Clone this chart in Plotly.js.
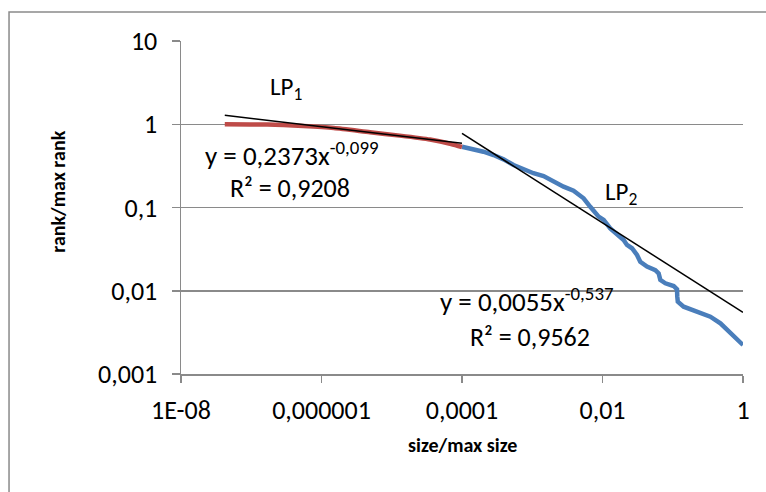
<!DOCTYPE html>
<html>
<head>
<meta charset="utf-8">
<script src="https://cdn.plot.ly/plotly-3.0.1.min.js"></script>
<style>html,body{margin:0;padding:0;background:#fff;}#chart{width:766px;height:492px;}</style>
</head>
<body>
<div id="chart"></div>
<script>
// LP1 (red) data
const lp1X = [4.2e-8, 1.7e-7, 5.5e-7, 1.5e-6, 4.9e-6, 1.3e-5, 3.5e-5, 7.0e-5, 1.0e-4];
const lp1Y = [1.0, 0.99, 0.95, 0.9, 0.8, 0.73, 0.655, 0.58, 0.533];
// LP2 (blue) data
const lp2X = [1.0e-4, 1.46e-4, 2.02e-4, 2.81e-4, 3.9e-4, 5.42e-4, 7.52e-4, 1.04e-3, 1.45e-3, 2.01e-3, 2.79e-3, 3.87e-3, 5.38e-3, 6.7e-3, 8.8e-3, 0.0104, 0.0129, 0.02, 0.0223, 0.0263, 0.031, 0.0345, 0.043, 0.0565, 0.063, 0.0665, 0.0785, 0.103, 0.115, 0.116, 0.118, 0.143, 0.222, 0.343, 0.477, 0.662, 1.0];
const lp2Y = [0.537, 0.5, 0.468, 0.427, 0.379, 0.324, 0.288, 0.258, 0.239, 0.204, 0.178, 0.159, 0.129, 0.102, 0.0776, 0.0708, 0.0562, 0.0407, 0.0355, 0.0324, 0.0269, 0.0223, 0.0195, 0.0177, 0.0162, 0.0135, 0.0123, 0.0114, 0.0104, 0.00849, 0.0074, 0.00643, 0.0056, 0.00488, 0.00406, 0.00308, 0.00223];
// Trendlines (endpoints)
const trend1X = [4.2e-8, 1.0e-4];
const trend1Y = [1.28, 0.59];
const trend2X = [1.0e-4, 1.0];
const trend2Y = [0.776, 0.0055];
// Tick labels
const xTickVals = [1e-8, 1e-6, 1e-4, 1e-2, 1];
const xTickText = ['1E-08', '0,000001', '0,0001', '0,01', '1'];
const yTickVals = [0.001, 0.01, 0.1, 1, 10];
const yTickText = ['0,001', '0,01', '0,1', '1', '10'];

const FONT = "Carlito, Calibri, 'Open Sans', sans-serif";
const GRID = '#8A8A8A';

const traces = [
  {x: lp2X, y: lp2Y, type: 'scatter', mode: 'lines', line: {color: '#4A7EBB', width: 4.5}, hoverinfo: 'none'},
  {x: lp1X, y: lp1Y, type: 'scatter', mode: 'lines', line: {color: '#BE4B48', width: 4.5, shape: 'spline', smoothing: 0.6}, hoverinfo: 'none'},
  {x: trend1X, y: trend1Y, type: 'scatter', mode: 'lines', line: {color: '#000000', width: 1.5}, hoverinfo: 'none'},
  {x: trend2X, y: trend2Y, type: 'scatter', mode: 'lines', line: {color: '#000000', width: 1.5}, hoverinfo: 'none'}
];

function ann(x, y, text, size, extra) {
  return Object.assign({xref: 'paper', yref: 'paper', x: x, y: y, text: text, showarrow: false,
    xanchor: 'center', yanchor: 'middle', font: {family: FONT, size: size, color: '#000'}}, extra || {});
}

const layout = {
  width: 766, height: 492,
  margin: {l: 181, r: 23, t: 41, b: 118, pad: 0},
  paper_bgcolor: '#ffffff', plot_bgcolor: '#ffffff',
  showlegend: false,
  font: {family: FONT, size: 26, color: '#000000'},
  xaxis: {
    type: 'log', range: [-8, 0],
    tickvals: xTickVals, ticktext: xTickText,
    showgrid: false, zeroline: false,
    showline: true, linecolor: GRID, linewidth: 1.5,
    ticks: 'outside', ticklen: 7, tickcolor: GRID, tickwidth: 1.5,
    ticklabelstandoff: 5,
    tickfont: {family: FONT, size: 26, color: '#000'}
  },
  yaxis: {
    type: 'log', range: [-3, 1],
    tickvals: yTickVals, ticktext: yTickText,
    showgrid: true, gridcolor: GRID, gridwidth: 1.5, zeroline: false,
    showline: true, linecolor: GRID, linewidth: 1.5,
    ticks: 'outside', ticklen: 8, tickcolor: GRID, tickwidth: 1.5,
    ticklabelstandoff: 9,
    tickfont: {family: FONT, size: 26, color: '#000'}
  },
  shapes: [
    {type: 'rect', xref: 'paper', yref: 'paper', x0: -0.306, x1: 1.1, y0: -0.4, y1: 1.087,
     line: {color: GRID, width: 1.5}, fillcolor: 'rgba(0,0,0,0)', layer: 'below'}
  ],
  annotations: [
    ann(0.5, -0.213, '<b>size/max size</b>', 20),
    ann(-0.219, 0.547, '<b>rank/max rank</b>', 20, {textangle: -90}),
    ann(0.187, 0.859, 'LP<sub>1</sub>', 25),
    ann(0.783, 0.544, 'LP<sub>2</sub>', 25),
    ann(0.197, 0.661, 'y = 0,2373x<sup>-0,099</sup>', 27),
    ann(0.194, 0.5586, 'R² = 0,9208', 26),
    ann(0.616, 0.222, 'y = 0,0055x<sup>-0,537</sup>', 27),
    ann(0.621, 0.111, 'R² = 0,9562', 26)
  ]
};

Plotly.newPlot('chart', traces, layout, {displayModeBar: false, staticPlot: true});
</script>
</body>
</html>
